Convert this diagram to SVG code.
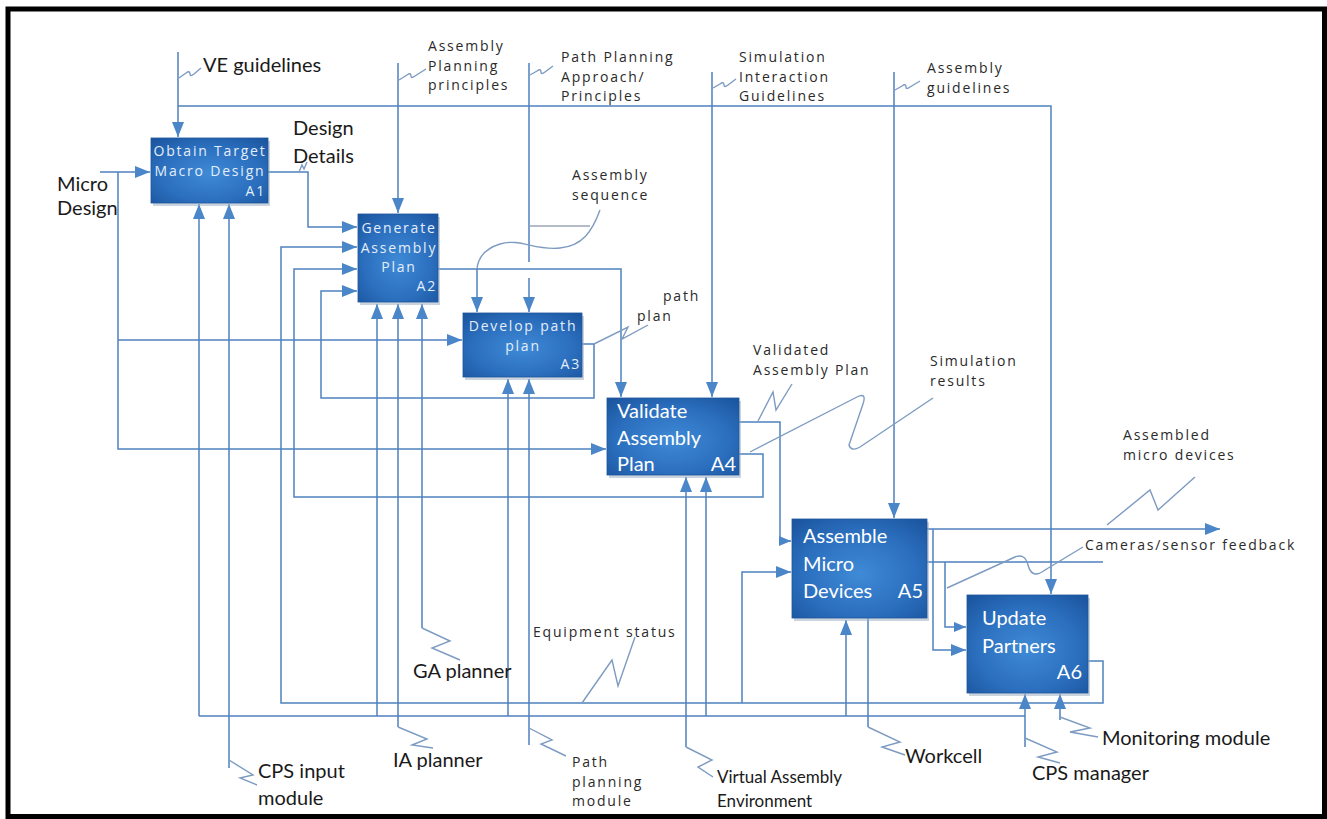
<svg xmlns="http://www.w3.org/2000/svg" width="1327" height="819" viewBox="0 0 1327 819">
<defs>
<radialGradient id="bx" cx="50%" cy="55%" r="70%">
<stop offset="0" stop-color="#3f8ad6"/>
<stop offset="0.6" stop-color="#2b6fbe"/>
<stop offset="1" stop-color="#1c56a0"/>
</radialGradient>
<marker id="ah" markerUnits="userSpaceOnUse" markerWidth="15" markerHeight="12" refX="15" refY="6" orient="auto"><path d="M0,0 L15,6 L0,12 z" fill="#4a86c8"/></marker>
<marker id="as" markerUnits="userSpaceOnUse" markerWidth="12" markerHeight="10" refX="12" refY="5" orient="auto"><path d="M0,0 L12,5 L0,10 z" fill="#4a86c8"/></marker>
<style>
.c{fill:none;stroke:#4f81bd;stroke-width:1.5}
.a{marker-end:url(#ah)}
.s{marker-end:url(#as)}
.z{fill:none;stroke:#7d9bc1;stroke-width:1.4}
.box{fill:url(#bx);stroke:#1d559c;stroke-width:0.8}
.sh{fill:#9fb0c4;opacity:0.55}
.bt{font-family:"Open Sans","DejaVu Sans",sans-serif;font-size:14px;letter-spacing:1.8px;fill:#e4eef9}
.bt2{font-family:Lato,"Liberation Sans",sans-serif;font-size:20px;fill:#ffffff}
.w{font-family:"Open Sans","DejaVu Sans",sans-serif;font-size:14px;letter-spacing:1.8px;fill:#2a2a2a}
.k{font-family:Lato,"Liberation Sans",sans-serif;font-size:20px;fill:#1a1a1a}
</style>
</defs>
<rect x="0" y="0" width="1327" height="819" fill="#ffffff"/>
<rect x="8" y="9" width="1316.5" height="807.5" fill="none" stroke="#000" stroke-width="5"/>

<g id="connectors">
<path class="c a" d="M178,52 V137"/>
<path class="c a" d="M178,106 H1051 V594"/>
<path class="c a" d="M398,63 V213"/>
<path class="c" d="M529,63 V262"/>
<path class="c a" d="M529,278 V312"/>
<path class="c a" d="M712,72 V397"/>
<path class="c a" d="M894,72 V518"/>
<path class="c a" d="M100,172 H150"/>
<path class="c a" d="M118,172 V449 H606"/>
<path class="c a" d="M118,340 H462"/>
<path class="c a" d="M268,172 H308 V227 H357"/>
<path class="c a" d="M438,269 H621 V397"/>
<path class="c a" d="M477,269 V312"/>
<path class="c a" d="M582,344 H594 V398 H321 V291 H357"/>
<path class="c a" d="M739,454 H763 V497 H294 V269 H357"/>
<path class="c s" d="M739,422 H780 V541 H791"/>
<path class="c a" d="M1088,661 H1103 V703 H281 V247 H357"/>
<path class="c" d="M927,562 H1103"/>
<path class="c a" d="M742,703 V572 H791"/>
<path class="c a" d="M927,529 H1220"/>
<path class="c a" d="M933,529 V650 H966"/>
<path class="c s" d="M945,562 V627 H966"/>
<path class="c a" d="M1025,747 V694"/>
<path class="c" d="M1025,716 H199"/>
<path class="c a" d="M199,716 V204"/>
<path class="c a" d="M377,716 V304"/>
<path class="c a" d="M508,716 V379"/>
<path class="c a" d="M706,716 V477"/>
<path class="c a" d="M846,716 V620"/>
<path class="c a" d="M229,768 V204"/>
<path class="c a" d="M398,727 V304"/>
<path class="c a" d="M422,628 V304"/>
<path class="c a" d="M529,745 V379"/>
<path class="c a" d="M686,747 V477"/>
<path class="c" d="M868,727 V618"/>
<path class="c a" d="M1060,720 V694"/>
<path class="z" d="M179,78 L186,73 Q190,70 190,74 Q190,77 194,74 L201,68"/>
<path class="z" d="M399,80 L407,75 Q411,72 411,76 Q411,79 415,76 L426,69"/>
<path class="z" d="M530,75 L537,71 Q541,68 541,72 Q541,75 545,72 L553,66"/>
<path class="z" d="M713,88 L720,84 Q724,81 724,85 Q724,88 728,85 L736,79"/>
<path class="z" d="M895,90 L902,86 Q906,83 906,87 Q906,90 910,87 L920,81"/>
<path class="z" d="M299,172 L302,165 L304,169 L307,162"/>
<path class="z" d="M600,210 C592,232 582,246 560,248 C535,251 520,238 500,244 C484,249 478,258 477,269"/>
<path class="z" d="M529,226 H590" style="stroke:#9aa6b4"/>
<path class="z" d="M594,344 L628,327 L622,339 L648,325"/>
<path class="z" d="M758,421 L773,392 L776,410 L792,384"/>
<path class="z" d="M750,452 L857,397 Q867,392 863,404 L849,445 Q851,452 860,447 L933,398"/>
<path class="z" d="M1107,525 L1150,490 L1158,510 L1195,477"/>
<path class="z" d="M947,588 L1015,557 Q1025,553 1028,565 Q1032,580 1045,570 L1083,547"/>
<path class="z" d="M582,703 L612,660 L618,686 L635,637"/>
<path class="z" d="M422,628 L450,641 L432,648 L460,660"/>
<path class="z" d="M398,727 L427,739 L412,745 L433,748"/>
<path class="z" d="M229,760 L253,775 L240,778 L257,785"/>
<path class="z" d="M529,728 L552,740 L541,744 L566,756"/>
<path class="z" d="M686,747 L712,760 L698,767 L713,777"/>
<path class="z" d="M868,727 L900,742 L882,747 L905,755"/>
<path class="z" d="M1025,738 L1057,752 L1038,757 L1060,763"/>
<path class="z" d="M1060,717 L1090,728 L1070,732 L1098,737"/>
</g>

<g id="A1">
<rect class="sh" x="153" y="141" width="117" height="65"/>
<rect class="box" x="151" y="138" width="117" height="65"/>
<text class="bt" x="210" y="156" text-anchor="middle">Obtain Target</text>
<text class="bt" x="210" y="176" text-anchor="middle">Macro Design</text>
<text class="bt" x="266" y="196" text-anchor="end">A1</text>
</g>
<g id="A2">
<rect class="sh" x="360" y="217" width="80" height="88"/>
<rect class="box" x="358" y="214" width="80" height="88"/>
<text class="bt" x="399" y="233" text-anchor="middle">Generate</text>
<text class="bt" x="399" y="253" text-anchor="middle">Assembly</text>
<text class="bt" x="399" y="272" text-anchor="middle">Plan</text>
<text class="bt" x="437" y="291" text-anchor="end">A2</text>
</g>
<g id="A3">
<rect class="sh" x="465" y="316" width="119" height="64"/>
<rect class="box" x="463" y="313" width="119" height="64"/>
<text class="bt" x="523" y="331" text-anchor="middle">Develop path</text>
<text class="bt" x="523" y="351" text-anchor="middle">plan</text>
<text class="bt" x="581" y="369" text-anchor="end">A3</text>
</g>
<g id="A4">
<rect class="sh" x="609" y="401" width="132" height="77"/>
<rect class="box" x="607" y="398" width="132" height="77"/>
<text class="bt2" x="617" y="418">Validate</text>
<text class="bt2" x="617" y="445">Assembly</text>
<text class="bt2" x="617" y="471">Plan</text>
<text class="bt2" x="736" y="471" text-anchor="end">A4</text>
</g>
<g id="A5">
<rect class="sh" x="794" y="522" width="135" height="99"/>
<rect class="box" x="792" y="519" width="135" height="99"/>
<text class="bt2" x="803" y="543">Assemble</text>
<text class="bt2" x="803" y="571">Micro</text>
<text class="bt2" x="803" y="598">Devices</text>
<text class="bt2" x="923" y="598" text-anchor="end">A5</text>
</g>
<g id="A6">
<rect class="sh" x="969" y="598" width="121" height="98"/>
<rect class="box" x="967" y="595" width="121" height="98"/>
<text class="bt2" x="982" y="625">Update</text>
<text class="bt2" x="982" y="653">Partners</text>
<text class="bt2" x="1082" y="679" text-anchor="end">A6</text>
</g>

<g id="labels">
<text class="k" x="203" y="72">VE guidelines</text>
<text class="k" x="293" y="135">Design</text>
<text class="k" x="293" y="163">Details</text>
<text class="k" x="57" y="191">Micro</text>
<text class="k" x="57" y="215">Design</text>
<text class="w" x="428" y="51">Assembly</text>
<text class="w" x="428" y="71">Planning</text>
<text class="w" x="428" y="90">principles</text>
<text class="w" x="561" y="62">Path Planning</text>
<text class="w" x="561" y="82">Approach/</text>
<text class="w" x="561" y="101">Principles</text>
<text class="w" x="739" y="62">Simulation</text>
<text class="w" x="739" y="82">Interaction</text>
<text class="w" x="739" y="101">Guidelines</text>
<text class="w" x="927" y="73">Assembly</text>
<text class="w" x="927" y="93">guidelines</text>
<text class="w" x="572" y="180">Assembly</text>
<text class="w" x="572" y="200">sequence</text>
<text class="w" x="663" y="301">path</text>
<text class="w" x="637" y="321">plan</text>
<text class="w" x="753" y="355">Validated</text>
<text class="w" x="753" y="375">Assembly Plan</text>
<text class="w" x="930" y="366">Simulation</text>
<text class="w" x="930" y="386">results</text>
<text class="w" x="1123" y="440">Assembled</text>
<text class="w" x="1123" y="460">micro devices</text>
<text class="w" x="1085" y="550">Cameras/sensor feedback</text>
<text class="w" x="533" y="637">Equipment status</text>
<text class="w" x="572" y="767">Path</text>
<text class="w" x="572" y="787">planning</text>
<text class="w" x="572" y="806">module</text>
<text class="k" x="717" y="783" style="font-size:17px">Virtual Assembly</text>
<text class="k" x="717" y="807" style="font-size:17px">Environment</text>
<text class="k" x="413" y="678">GA planner</text>
<text class="k" x="393" y="767">IA planner</text>
<text class="k" x="258" y="778">CPS input</text>
<text class="k" x="258" y="805">module</text>
<text class="k" x="905" y="763">Workcell</text>
<text class="k" x="1032" y="780">CPS manager</text>
<text class="k" x="1102" y="745">Monitoring module</text>
</g>
</svg>
